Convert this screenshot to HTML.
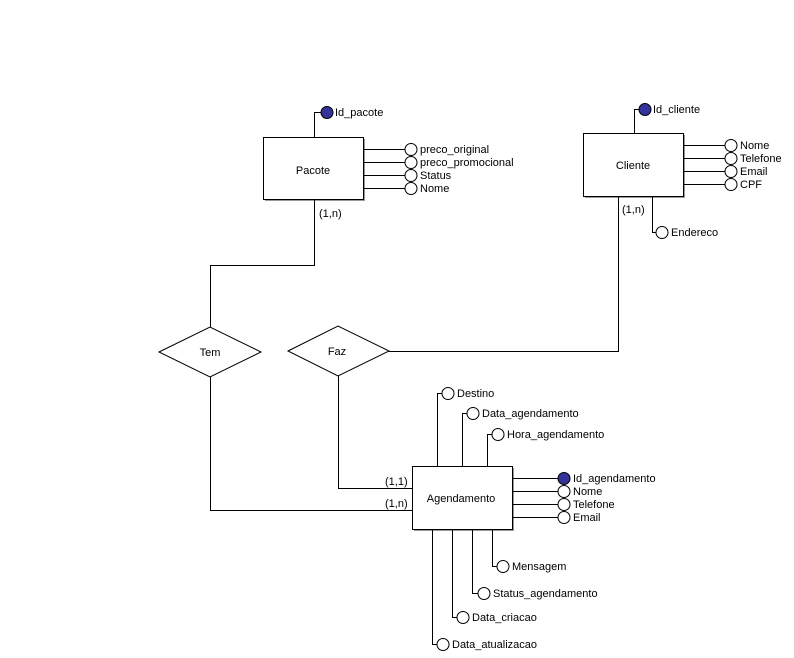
<!DOCTYPE html>
<html><head><meta charset="utf-8"><style>
html,body{margin:0;padding:0;background:#fff;}
svg{display:block;}
text{font-family:"Liberation Sans",sans-serif;font-size:11px;fill:#000;}
</style></head><body>
<svg width="794" height="658" viewBox="0 0 794 658" xmlns="http://www.w3.org/2000/svg">
<g stroke="#000" stroke-width="1" fill="none" shape-rendering="crispEdges">
<rect x="265" y="139" width="100" height="62" fill="#999" stroke="none"/>
<rect x="263.5" y="137.5" width="100" height="62" fill="#fff"/>
<path d="M314.5 137 V112.5 H321"/>
<path d="M364 149.5 H405 M364 162.5 H405 M364 175.5 H405 M364 188.5 H405"/>
<rect x="585" y="135" width="100" height="63" fill="#999" stroke="none"/>
<rect x="583.5" y="133.5" width="100" height="63" fill="#fff"/>
<path d="M634.5 133 V109.5 H639"/>
<path d="M684 145.5 H725 M684 158.5 H725 M684 171.5 H725 M684 184.5 H725"/>
<path d="M652.5 197 V232.5 H656"/>
<rect x="414" y="468" width="100" height="63" fill="#999" stroke="none"/>
<rect x="412.5" y="466.5" width="100" height="63" fill="#fff"/>
<path d="M437.5 466 V393.5 H442 M462.5 466 V413.5 H467 M487.5 466 V434.5 H492"/>
<path d="M513 478.5 H558 M513 491.5 H558 M513 504.5 H558 M513 517.5 H558"/>
<path d="M432.5 530 V644.5 H437 M452.5 530 V617.5 H457 M472.5 530 V593.5 H478 M492.5 530 V566.5 H497"/>
<path d="M314.5 200 V265.5 H210.5 V327"/>
<path d="M210.5 377 V510.5 H412"/>
<path d="M338.5 376 V488.5 H412"/>
<path d="M618.5 197 V351.5 H389"/>
</g>
<g stroke="#000" stroke-width="1" fill="#fff">
<polygon points="159,352 210,327 261,352 210,377"/>
<polygon points="288,351 338,326 389,351 338,376"/>
<circle cx="411" cy="149.5" r="6"/><circle cx="411" cy="162.5" r="6"/><circle cx="411" cy="175.5" r="6"/><circle cx="411" cy="188.5" r="6"/>
<circle cx="731" cy="145.5" r="6"/><circle cx="731" cy="158.5" r="6"/><circle cx="731" cy="171.5" r="6"/><circle cx="731" cy="184.5" r="6"/>
<circle cx="662" cy="232.5" r="6"/>
<circle cx="448" cy="393.5" r="6"/><circle cx="473" cy="413.5" r="6"/><circle cx="498" cy="434.5" r="6"/>
<circle cx="564" cy="491.5" r="6"/><circle cx="564" cy="504.5" r="6"/><circle cx="564" cy="517.5" r="6"/>
<circle cx="503" cy="566.5" r="6"/><circle cx="484" cy="593.5" r="6"/><circle cx="463" cy="617.5" r="6"/><circle cx="443" cy="644.5" r="6"/>
<circle cx="327" cy="112.5" r="6" fill="#333399"/>
<circle cx="645" cy="109.5" r="6" fill="#333399"/>
<circle cx="564" cy="478.5" r="6" fill="#333399"/>
</g>
<text x="313" y="174" text-anchor="middle">Pacote</text>
<text x="633" y="169" text-anchor="middle">Cliente</text>
<text x="461" y="502" text-anchor="middle">Agendamento</text>
<text x="210" y="356" text-anchor="middle">Tem</text>
<text x="337" y="355" text-anchor="middle">Faz</text>
<text x="335" y="116">Id_pacote</text>
<text x="420" y="153">preco_original</text>
<text x="420" y="166">preco_promocional</text>
<text x="420" y="179">Status</text>
<text x="420" y="192">Nome</text>
<text x="319" y="217">(1,n)</text>
<text x="653" y="113">Id_cliente</text>
<text x="740" y="149">Nome</text>
<text x="740" y="162">Telefone</text>
<text x="740" y="175">Email</text>
<text x="740" y="188">CPF</text>
<text x="622" y="213">(1,n)</text>
<text x="671" y="236">Endereco</text>
<text x="457" y="397">Destino</text>
<text x="482" y="417">Data_agendamento</text>
<text x="507" y="438">Hora_agendamento</text>
<text x="573" y="482">Id_agendamento</text>
<text x="573" y="495">Nome</text>
<text x="573" y="508">Telefone</text>
<text x="573" y="521">Email</text>
<text x="512" y="570">Mensagem</text>
<text x="493" y="597">Status_agendamento</text>
<text x="472" y="621">Data_criacao</text>
<text x="452" y="648">Data_atualizacao</text>
<text x="385" y="485">(1,1)</text>
<text x="385" y="507">(1,n)</text>
</svg>
</body></html>
